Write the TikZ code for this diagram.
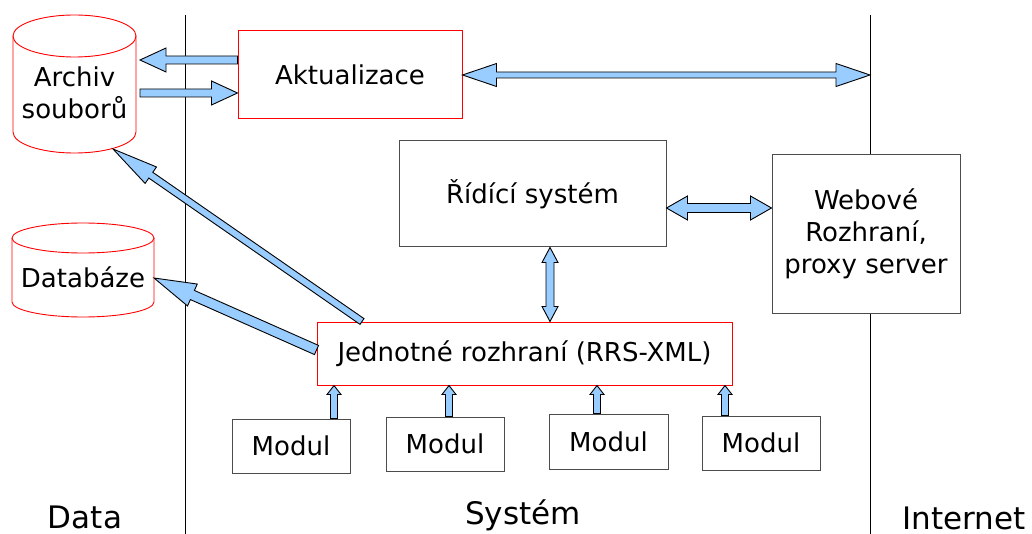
\documentclass[tikz,border=0pt]{standalone}
\usepackage{fontspec}
\setmainfont{DejaVu Sans}
\usetikzlibrary{calc}

\definecolor{arrowblue}{RGB}{153,204,255}

% fat arrow: from, to, shaft half width, head half width, head length
\newcommand{\fatarrow}[5]{%
 \coordinate (fh) at ($(#2)!#5!(#1)$);
 \filldraw[fatarrow] ($(#1)!#3!90:(#2)$) -- ($(fh)!#3!90:(#2)$) -- ($(fh)!#4!90:(#2)$) -- (#2)
  -- ($(fh)!#4!-90:(#2)$) -- ($(fh)!#3!-90:(#2)$) -- ($(#1)!#3!-90:(#2)$) -- cycle;}
\newcommand{\fatdarrow}[5]{%
 \coordinate (fa) at ($(#1)!#5!(#2)$);
 \coordinate (fb) at ($(#2)!#5!(#1)$);
 \filldraw[fatarrow] (#1) -- ($(fa)!#4!90:(#2)$) -- ($(fa)!#3!90:(#2)$) -- ($(fb)!#3!90:(#2)$)
  -- ($(fb)!#4!90:(#2)$) -- (#2) -- ($(fb)!#4!-90:(#2)$) -- ($(fb)!#3!-90:(#2)$)
  -- ($(fa)!#3!-90:(#2)$) -- ($(fa)!#4!-90:(#2)$) -- cycle;}

\begin{document}
\begin{tikzpicture}[x=1pt,y=-1pt,
 box/.style={draw=black!70,line width=1pt,fill=white,inner sep=0pt,align=center,
  font=\fontsize{26}{32}\selectfont},
 redbox/.style={box,draw=red},
 cyl/.style={draw=red,line width=0.9pt},
 fatarrow/.style={fill=arrowblue,draw=black,line width=0.9pt,line join=miter},
 zone/.style={font=\fontsize{31}{37}\selectfont,anchor=base,inner sep=0pt}]
 \useasboundingbox (0,0) rectangle (1032,534);

 \coordinate (dtop) at (185,15);
 \coordinate (dbot) at (185,534);
 \coordinate (itop) at (870,15);
 \coordinate (ibot) at (870,534);
 \draw[line width=1pt] (dtop) -- (dbot);
 \draw[line width=1pt] (itop) -- (ibot);

 \draw[cyl] (74.5,36) ellipse [x radius=61.5,y radius=21];
 \draw[cyl] (13,36) -- (13,132) arc[start angle=180,end angle=0,x radius=61.5,y radius=21] -- (136,36);
 \node[align=center,font=\fontsize{26}{32}\selectfont] (arch) at (74.5,93) {Archiv\\souborů};

 \draw[cyl] (83,238) ellipse [x radius=71,y radius=15];
 \draw[cyl] (12,238) -- (12,302) arc[start angle=180,end angle=0,x radius=71,y radius=15] -- (154,238);
 \node[font=\fontsize{26}{32}\selectfont] (db) at (83,277) {Databáze};

 \node[redbox,minimum width=224,minimum height=88] (akt) at (350,75) {Aktualizace};
 \node[box,minimum width=267,minimum height=106] (rid) at (532.5,194) {Řídící systém};
 \node[box,minimum width=188,minimum height=158] (web) at (866,234) {Webové\\Rozhraní,\\proxy server};
 \node[redbox,minimum width=415,minimum height=63] (jr) at (524.5,353.5) {Jednotné rozhraní (RRS-XML)};
 \node[box,minimum width=118,minimum height=54] (m1) at (291,446) {Modul};
 \node[box,minimum width=118,minimum height=54] (m2) at (445,444) {Modul};
 \node[box,minimum width=119,minimum height=55] (m3) at (608.5,441.5) {Modul};
 \node[box,minimum width=118,minimum height=54] (m4) at (761,443) {Modul};

 \node[zone] (lab1) at (85,528) {Data};
 \node[zone] (lab2) at (523,524) {Systém};
 \node[zone] (lab3) at (964,529) {Internet};

 \coordinate (aw1) at (akt.west |- 0,60);
 \coordinate (ae1) at (140,60);
 \coordinate (aw2) at (akt.west |- 0,93);
 \coordinate (ae2) at (140,93);
 \coordinate (inet) at (itop |- akt.east);
 \coordinate (rw1) at (rid.east |- 0,208);
 \coordinate (rw2) at (web.west |- 0,208);
 \coordinate (rj1) at (rid.south -| 550,0);
 \coordinate (rj2) at (jr.north -| 550,0);
 \coordinate (ja) at (jr.north -| 362,0);
 \coordinate (ab) at (113,149);
 \coordinate (jd) at (jr.west |- 0,350);
 \coordinate (de) at (154,278);

 \fatarrow{aw1}{ae1}{4pt}{12pt}{26pt}
 \fatarrow{ae2}{aw2}{4pt}{12pt}{26pt}
 \fatdarrow{akt.east}{inet}{3pt}{11.5pt}{34pt}
 \fatdarrow{rw1}{rw2}{4.5pt}{12pt}{21pt}
 \fatdarrow{rj1}{rj2}{4pt}{8pt}{15pt}
 \fatarrow{ja}{ab}{3.5pt}{10pt}{46pt}
 \fatarrow{jd}{de}{5pt}{12pt}{42pt}

 \foreach \m/\ax in {m1/334,m2/449,m3/597,m4/725}{
  \coordinate (u) at (\m.north -| \ax,0);
  \coordinate (v) at (jr.south -| \ax,0);
  \fatarrow{u}{v}{3.5pt}{7pt}{9pt}
 }
\end{tikzpicture}
\end{document}
